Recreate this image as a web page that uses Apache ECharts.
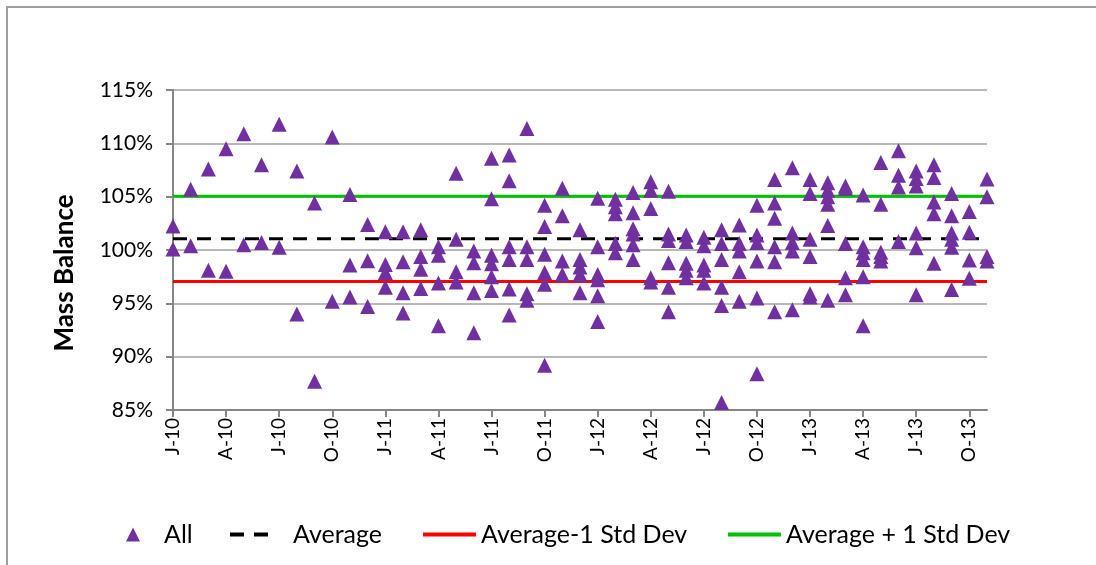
<!DOCTYPE html>
<html lang="en">
<head>
    <meta charset="UTF-8">
    <title>Mass Balance</title>
    <script src="https://cdn.jsdelivr.net/npm/echarts@6.0.0/dist/echarts.min.js"></script>
</head>
<style>
    body {
        margin: 0;
        background: #ffffff;
    }

    .chart {
        width: 1096px;
        height: 565px;
    }
</style>
<body>
<div id="chart" class="chart"></div>
<script type="text/javascript">
    // quarter labels on the date axis (one every 3 months, from Jan 2010)
    const tickLabels = ['J-10', 'A-10', 'J-10', 'O-10', 'J-11', 'A-11', 'J-11', 'O-11',
        'J-12', 'A-12', 'J-12', 'O-12', 'J-13', 'A-13', 'J-13', 'O-13'];

    // mass balance readings (%) for each month, month 0 = Jan 2010
    const balanceByMonth = [
        [102.25, 100.1],
        [105.7, 100.4],
        [107.6, 98.1],
        [109.5, 98.0],
        [110.9, 100.5],
        [108.0, 100.7],
        [111.8, 100.25],
        [107.4, 94.0],
        [104.4, 87.7],
        [110.6, 95.2],
        [105.2, 98.6, 95.6],
        [102.4, 99.0, 94.7],
        [101.7, 98.65, 97.9, 96.5],
        [101.7, 98.9, 96.0, 94.1],
        [101.9, 99.4, 98.2, 96.4],
        [100.3, 99.5, 96.9, 92.9],
        [107.2, 101.0, 97.97, 97.0],
        [99.9, 98.8, 96.0, 92.25],
        [108.6, 104.8, 99.5, 98.7, 97.5, 96.2],
        [108.9, 106.5, 100.3, 99.1, 96.35, 93.9],
        [111.4, 100.3, 99.1, 95.9, 95.3],
        [104.2, 102.2, 99.6, 97.9, 96.8, 89.2],
        [105.8, 103.2, 98.97, 97.7],
        [101.9, 99.1, 98.4, 97.7, 96.0],
        [104.85, 100.3, 97.7, 97.2, 95.7, 93.3],
        [104.75, 104.06, 103.4, 100.6, 99.75],
        [105.4, 103.5, 102.0, 101.5, 100.5, 99.1],
        [106.4, 105.6, 103.9, 97.4, 97.0],
        [105.5, 101.5, 100.9, 98.8, 96.5, 94.2],
        [101.4, 100.8, 98.75, 98.1, 97.4],
        [101.2, 100.4, 98.6, 98.1, 96.9],
        [101.9, 100.6, 99.1, 96.5, 94.8, 85.7],
        [102.35, 100.6, 99.9, 97.97, 95.2],
        [104.2, 101.4, 100.7, 98.97, 95.5, 88.4],
        [106.6, 104.4, 102.97, 100.3, 98.9, 94.2],
        [107.7, 101.6, 100.7, 99.9, 94.4],
        [106.6, 105.3, 101.0, 99.4, 95.9, 95.6],
        [106.3, 105.6, 105.0, 104.3, 102.3, 95.3],
        [106.0, 105.8, 100.6, 97.4, 95.8],
        [105.15, 100.3, 99.75, 99.1, 97.5, 92.9],
        [108.2, 104.3, 99.8, 99.4, 98.97],
        [109.3, 107.0, 105.9, 100.8],
        [107.4, 106.7, 106.0, 101.6, 100.2, 95.8],
        [108.0, 106.8, 104.5, 103.4, 98.75],
        [105.3, 103.2, 101.6, 101.0, 100.25, 96.3],
        [103.6, 101.66, 99.06, 97.35],
        [106.65, 105.0, 99.4, 98.97]
    ];

    // horizontal reference levels (%)
    const averageLevel = 101.05;
    const lowerLevel = 97.05;
    const upperLevel = 105.05;

    const lastMonth = balanceByMonth.length - 1;
    const fontName = 'Lato, "Open Sans", sans-serif';

    // build scatter points [month, value]
    let allPoints = [];
    balanceByMonth.forEach(function (vals, m) {
        vals.forEach(function (v) {
            allPoints.push([m, v]);
        });
    });

    function flatLine(level) {
        return [[0, level], [lastMonth, level]];
    }

    let tickValues = tickLabels.map(function (t, i) {
        return i * 3;
    });

    // one legend box per item so each can sit where the original puts it
    function legendAt(name, left, width, pad, isLine) {
        let lg = {
            data: [name],
            left: left,
            top: 522,
            padding: 0,
            itemWidth: width,
            itemHeight: 14,
            selectedMode: false,
            textStyle: {
                fontFamily: fontName,
                fontSize: 25,
                color: '#000',
                padding: [0, 0, 0, pad]
            }
        };
        if (isLine) {
            lg.itemStyle = {opacity: 0};
            lg.lineStyle = {width: 4};
        }
        return lg;
    }

    let myChart = echarts.init(document.getElementById('chart'));
    myChart.setOption({
        animation: false,
        backgroundColor: '#ffffff',
        graphic: [
            {
                type: 'rect',
                shape: {x: 7, y: 7, width: 1200, height: 700},
                style: {fill: 'none', stroke: '#a0a0a0', lineWidth: 2}
            },
            {
                type: 'text',
                x: 65,
                y: 273,
                rotation: Math.PI / 2,
                style: {
                    text: 'Mass Balance',
                    fontFamily: fontName,
                    fontSize: 26,
                    fontWeight: 'bold',
                    fill: '#000',
                    align: 'center',
                    verticalAlign: 'middle'
                }
            }
        ],
        grid: {
            left: 173,
            right: 109,
            top: 90,
            bottom: 155,
            outerBoundsMode: 'none'
        },
        legend: [
            legendAt('All', 126, 14, 19, false),
            legendAt('Average', 228, 44, 14, true),
            legendAt('Average-1 Std Dev', 421, 53, 0, true),
            legendAt('Average + 1 Std Dev', 726, 53, 0, true)
        ],
        xAxis: {
            type: 'value',
            min: 0,
            max: lastMonth,
            interval: 3,
            axisLine: {lineStyle: {color: '#868686', width: 2}},
            axisTick: {show: true, length: 7, customValues: tickValues, lineStyle: {color: '#868686', width: 2}},
            splitLine: {show: false},
            axisLabel: {
                rotate: 90,
                margin: 8,
                customValues: tickValues,
                fontFamily: fontName,
                fontSize: 19,
                color: '#000',
                formatter: function (v) {
                    return tickLabels[Math.round(v / 3)] || '';
                }
            }
        },
        yAxis: {
            type: 'value',
            min: 85,
            max: 115,
            interval: 5,
            axisLine: {show: true, lineStyle: {color: '#868686', width: 2}},
            axisTick: {show: true, length: 7, lineStyle: {color: '#868686', width: 2}},
            splitLine: {lineStyle: {color: '#a0a0a0', width: 1.5}},
            axisLabel: {
                margin: 20,
                fontFamily: fontName,
                fontSize: 21,
                color: '#000',
                formatter: function (v) {
                    return v + '%';
                }
            }
        },
        series: [
            {
                name: 'Average',
                type: 'line',
                symbol: 'none',
                data: flatLine(averageLevel),
                lineStyle: {color: '#000', width: 3, type: [14, 10]},
                itemStyle: {color: '#000'},
                z: 2
            },
            {
                name: 'Average-1 Std Dev',
                type: 'line',
                symbol: 'none',
                data: flatLine(lowerLevel),
                lineStyle: {color: '#ff0000', width: 3},
                itemStyle: {color: '#ff0000'},
                z: 2
            },
            {
                name: 'Average + 1 Std Dev',
                type: 'line',
                symbol: 'none',
                data: flatLine(upperLevel),
                lineStyle: {color: '#00c000', width: 3},
                itemStyle: {color: '#00c000'},
                z: 2
            },
            {
                name: 'All',
                type: 'scatter',
                symbol: 'triangle',
                symbolSize: [15, 15],
                data: allPoints,
                itemStyle: {color: '#7030a0', opacity: 1},
                z: 5
            }
        ]
    });
</script>
</body>
</html>
